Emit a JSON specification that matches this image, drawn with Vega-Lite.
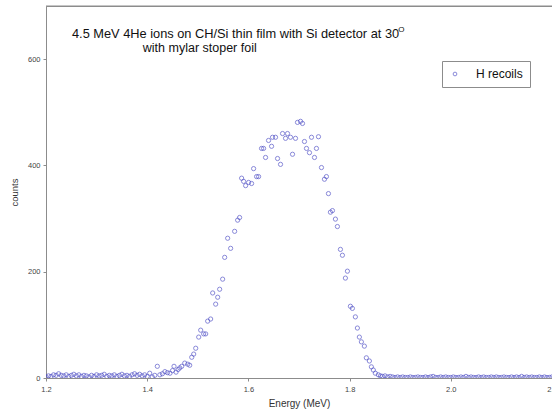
{
  "$schema": "https://vega.github.io/schema/vega-lite/v6.json",
  "autosize": {"type": "none"},
  "padding": {"left": 46, "top": 6, "right": 0, "bottom": 34},
  "width": 506,
  "height": 372,
  "background": "white",
  "config": {
    "font": "Liberation Sans",
    "view": {"stroke": "#8c8c8c", "strokeWidth": 1},
    "axis": {
      "domainColor": "#8c8c8c", "tickColor": "#8c8c8c", "grid": false,
      "labelFont": "Liberation Sans", "titleFont": "Liberation Sans",
      "labelColor": "#444444", "titleColor": "#333333", "titleFontWeight": "normal",
      "tickSize": 3, "labelFontSize": 7.5
    },
    "legend": {
      "labelFont": "Liberation Sans"
    }
  },
  "layer": [
    {
      "data": {
        "values": [
          {"energy": 1.200, "counts": 2}, {"energy": 1.205, "counts": 4}, {"energy": 1.210, "counts": 3},
          {"energy": 1.215, "counts": 6}, {"energy": 1.220, "counts": 5}, {"energy": 1.225, "counts": 8},
          {"energy": 1.230, "counts": 5}, {"energy": 1.235, "counts": 4}, {"energy": 1.240, "counts": 6},
          {"energy": 1.245, "counts": 3}, {"energy": 1.250, "counts": 5}, {"energy": 1.255, "counts": 7},
          {"energy": 1.260, "counts": 4}, {"energy": 1.265, "counts": 6}, {"energy": 1.270, "counts": 3},
          {"energy": 1.275, "counts": 5}, {"energy": 1.280, "counts": 4}, {"energy": 1.285, "counts": 2},
          {"energy": 1.290, "counts": 5}, {"energy": 1.295, "counts": 3}, {"energy": 1.300, "counts": 6},
          {"energy": 1.305, "counts": 4}, {"energy": 1.310, "counts": 5}, {"energy": 1.315, "counts": 7},
          {"energy": 1.320, "counts": 3}, {"energy": 1.325, "counts": 5}, {"energy": 1.330, "counts": 4},
          {"energy": 1.335, "counts": 6}, {"energy": 1.340, "counts": 3}, {"energy": 1.345, "counts": 5},
          {"energy": 1.350, "counts": 7}, {"energy": 1.355, "counts": 4}, {"energy": 1.360, "counts": 5},
          {"energy": 1.365, "counts": 3}, {"energy": 1.370, "counts": 6}, {"energy": 1.375, "counts": 8},
          {"energy": 1.380, "counts": 5}, {"energy": 1.385, "counts": 7}, {"energy": 1.390, "counts": 4},
          {"energy": 1.395, "counts": 6}, {"energy": 1.400, "counts": 3}, {"energy": 1.405, "counts": 9},
          {"energy": 1.410, "counts": 2}, {"energy": 1.415, "counts": 5}, {"energy": 1.420, "counts": 22},
          {"energy": 1.425, "counts": 6}, {"energy": 1.430, "counts": 8}, {"energy": 1.435, "counts": 12},
          {"energy": 1.440, "counts": 10}, {"energy": 1.445, "counts": 9}, {"energy": 1.450, "counts": 14},
          {"energy": 1.453, "counts": 22}, {"energy": 1.457, "counts": 11}, {"energy": 1.461, "counts": 16},
          {"energy": 1.4643, "counts": 19}, {"energy": 1.4682, "counts": 22}, {"energy": 1.4742, "counts": 28},
          {"energy": 1.4801, "counts": 26}, {"energy": 1.4840, "counts": 24}, {"energy": 1.4880, "counts": 39},
          {"energy": 1.4919, "counts": 45}, {"energy": 1.4959, "counts": 56}, {"energy": 1.5018, "counts": 77},
          {"energy": 1.5057, "counts": 90}, {"energy": 1.5116, "counts": 83}, {"energy": 1.5156, "counts": 83},
          {"energy": 1.5195, "counts": 107}, {"energy": 1.5254, "counts": 111}, {"energy": 1.5294, "counts": 160},
          {"energy": 1.5353, "counts": 139}, {"energy": 1.5393, "counts": 152}, {"energy": 1.5432, "counts": 167},
          {"energy": 1.5491, "counts": 186}, {"energy": 1.5531, "counts": 227}, {"energy": 1.5590, "counts": 263},
          {"energy": 1.5649, "counts": 244}, {"energy": 1.5728, "counts": 276}, {"energy": 1.5787, "counts": 297},
          {"energy": 1.5826, "counts": 302}, {"energy": 1.5866, "counts": 376}, {"energy": 1.5905, "counts": 370},
          {"energy": 1.5945, "counts": 362}, {"energy": 1.6004, "counts": 368}, {"energy": 1.6063, "counts": 366},
          {"energy": 1.6103, "counts": 394}, {"energy": 1.6162, "counts": 379}, {"energy": 1.6201, "counts": 379},
          {"energy": 1.6260, "counts": 432}, {"energy": 1.6300, "counts": 432}, {"energy": 1.6339, "counts": 415},
          {"energy": 1.6398, "counts": 447}, {"energy": 1.6458, "counts": 436}, {"energy": 1.6477, "counts": 453},
          {"energy": 1.6536, "counts": 453}, {"energy": 1.6576, "counts": 413}, {"energy": 1.6635, "counts": 402},
          {"energy": 1.6675, "counts": 460}, {"energy": 1.6734, "counts": 451}, {"energy": 1.6773, "counts": 460},
          {"energy": 1.6832, "counts": 453}, {"energy": 1.6872, "counts": 421}, {"energy": 1.6931, "counts": 451},
          {"energy": 1.6970, "counts": 481}, {"energy": 1.7030, "counts": 483}, {"energy": 1.7069, "counts": 479},
          {"energy": 1.7108, "counts": 445}, {"energy": 1.7148, "counts": 432}, {"energy": 1.7207, "counts": 424},
          {"energy": 1.7247, "counts": 453}, {"energy": 1.7306, "counts": 415}, {"energy": 1.7345, "counts": 432},
          {"energy": 1.7385, "counts": 454}, {"energy": 1.7444, "counts": 396}, {"energy": 1.7503, "counts": 374},
          {"energy": 1.7542, "counts": 379}, {"energy": 1.7582, "counts": 347}, {"energy": 1.7621, "counts": 312},
          {"energy": 1.7661, "counts": 315}, {"energy": 1.7720, "counts": 299}, {"energy": 1.7759, "counts": 285},
          {"energy": 1.7819, "counts": 242}, {"energy": 1.7858, "counts": 231}, {"energy": 1.7917, "counts": 188},
          {"energy": 1.7957, "counts": 201}, {"energy": 1.8016, "counts": 135}, {"energy": 1.8055, "counts": 131},
          {"energy": 1.8114, "counts": 115}, {"energy": 1.8154, "counts": 94}, {"energy": 1.8193, "counts": 77},
          {"energy": 1.8233, "counts": 68}, {"energy": 1.8292, "counts": 60}, {"energy": 1.8331, "counts": 38},
          {"energy": 1.8391, "counts": 32}, {"energy": 1.8430, "counts": 21}, {"energy": 1.8469, "counts": 15},
          {"energy": 1.8509, "counts": 9}, {"energy": 1.8568, "counts": 6}, {"energy": 1.861, "counts": 4},
          {"energy": 1.865, "counts": 3}, {"energy": 1.870, "counts": 4}, {"energy": 1.875, "counts": 2},
          {"energy": 1.880, "counts": 3}, {"energy": 1.885, "counts": 2}, {"energy": 1.890, "counts": 1},
          {"energy": 1.895, "counts": 2}, {"energy": 1.900, "counts": 1}, {"energy": 1.905, "counts": 2},
          {"energy": 1.910, "counts": 1}, {"energy": 1.915, "counts": 1}, {"energy": 1.920, "counts": 2},
          {"energy": 1.925, "counts": 1}, {"energy": 1.930, "counts": 1}, {"energy": 1.935, "counts": 2},
          {"energy": 1.940, "counts": 1}, {"energy": 1.945, "counts": 1}, {"energy": 1.950, "counts": 2},
          {"energy": 1.955, "counts": 1}, {"energy": 1.960, "counts": 2}, {"energy": 1.965, "counts": 3},
          {"energy": 1.970, "counts": 1}, {"energy": 1.975, "counts": 1}, {"energy": 1.980, "counts": 2},
          {"energy": 1.985, "counts": 1}, {"energy": 1.990, "counts": 2}, {"energy": 1.995, "counts": 1},
          {"energy": 2.000, "counts": 1}, {"energy": 2.005, "counts": 2}, {"energy": 2.010, "counts": 1},
          {"energy": 2.015, "counts": 1}, {"energy": 2.020, "counts": 2}, {"energy": 2.025, "counts": 1},
          {"energy": 2.030, "counts": 3}, {"energy": 2.035, "counts": 1}, {"energy": 2.040, "counts": 2},
          {"energy": 2.045, "counts": 1}, {"energy": 2.050, "counts": 1}, {"energy": 2.055, "counts": 2},
          {"energy": 2.060, "counts": 1}, {"energy": 2.065, "counts": 2}, {"energy": 2.070, "counts": 1},
          {"energy": 2.075, "counts": 1}, {"energy": 2.080, "counts": 2}, {"energy": 2.085, "counts": 1},
          {"energy": 2.090, "counts": 2}, {"energy": 2.095, "counts": 1}, {"energy": 2.100, "counts": 1},
          {"energy": 2.105, "counts": 2}, {"energy": 2.110, "counts": 1}, {"energy": 2.115, "counts": 1},
          {"energy": 2.120, "counts": 2}, {"energy": 2.125, "counts": 1}, {"energy": 2.130, "counts": 2},
          {"energy": 2.135, "counts": 1}, {"energy": 2.140, "counts": 3}, {"energy": 2.145, "counts": 1},
          {"energy": 2.150, "counts": 2}, {"energy": 2.155, "counts": 1}, {"energy": 2.160, "counts": 2},
          {"energy": 2.165, "counts": 1}, {"energy": 2.170, "counts": 1}, {"energy": 2.175, "counts": 2},
          {"energy": 2.180, "counts": 1}, {"energy": 2.185, "counts": 2}, {"energy": 2.190, "counts": 1},
          {"energy": 2.195, "counts": 1}, {"energy": 2.200, "counts": 2}
        ]
      },
      "mark": {"type": "point", "filled": false, "size": 18, "strokeWidth": 0.9, "clip": true},
      "encoding": {
        "x": {
          "field": "energy", "type": "quantitative",
          "scale": {"domain": [1.2, 2.2], "nice": false, "zero": false},
          "axis": {
            "title": "Energy (MeV)", "titleFontSize": 10, "titlePadding": 6,
            "values": [1.2, 1.4, 1.6, 1.8, 2.0, 2.2], "format": ".1f",
            "labelPadding": 4, "labelFlush": false, "labelOverlap": false, "labelBound": false
          }
        },
        "y": {
          "field": "counts", "type": "quantitative",
          "scale": {"domain": [0, 700], "nice": false},
          "axis": {
            "title": "counts", "titleFontSize": 9.5, "titlePadding": 8,
            "values": [0, 200, 400, 600], "labelPadding": 3
          }
        },
        "color": {
          "datum": "H recoils",
          "scale": {"range": ["#4646c3"]},
          "legend": {
            "title": null, "orient": "none", "legendX": 396, "legendY": 55,
            "strokeColor": "#8c8c8c", "fillColor": "white", "padding": 7,
            "symbolType": "circle", "symbolSize": 14, "symbolStrokeWidth": 0.9,
            "labelFontSize": 12, "labelOffset": 15, "labelColor": "#111111"
          }
        }
      }
    },
    {
      "data": {"values": [{"note": "top"}]},
      "mark": {"type": "rule", "stroke": "#8c8c8c", "strokeWidth": 1, "clip": false},
      "encoding": {
        "x": {"datum": 1.2, "type": "quantitative"},
        "x2": {"datum": 2.2},
        "y": {"datum": 700, "type": "quantitative"}
      }
    },
    {
      "data": {"values": [{"note": "line1"}]},
      "mark": {"type": "text", "align": "left", "baseline": "alphabetic", "fontSize": 12.8, "fill": "#111111", "font": "Liberation Sans"},
      "encoding": {
        "x": {"datum": 1.2513, "type": "quantitative"},
        "y": {"datum": 639, "type": "quantitative"},
        "text": {"value": "4.5 MeV 4He ions on CH/Si thin film with Si detector at 30"}
      }
    },
    {
      "data": {"values": [{"note": "sup"}]},
      "mark": {"type": "text", "align": "left", "baseline": "alphabetic", "fontSize": 8, "fill": "#111111", "font": "Liberation Sans"},
      "encoding": {
        "x": {"datum": 1.8963, "type": "quantitative"},
        "y": {"datum": 652, "type": "quantitative"},
        "text": {"value": "O"}
      }
    },
    {
      "data": {"values": [{"note": "line2"}]},
      "mark": {"type": "text", "align": "left", "baseline": "alphabetic", "fontSize": 12.5, "fill": "#111111", "font": "Liberation Sans"},
      "encoding": {
        "x": {"datum": 1.3913, "type": "quantitative"},
        "y": {"datum": 614, "type": "quantitative"},
        "text": {"value": "with mylar stoper foil"}
      }
    }
  ]
}
